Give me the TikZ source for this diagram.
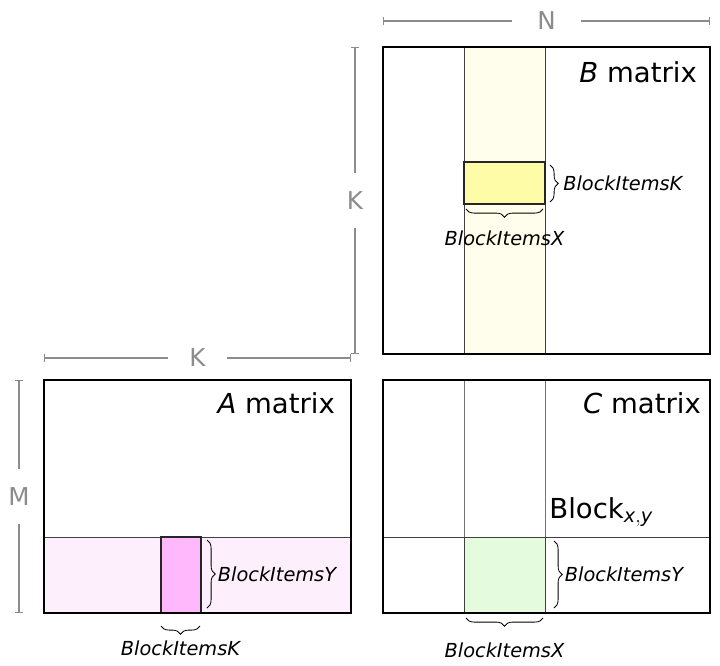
\documentclass[tikz,border=0pt]{standalone}
\usepackage{fontspec}
\setmainfont{DejaVu Sans}
\usepackage{tikz}
\usetikzlibrary{arrows, positioning, decorations.pathreplacing}
\definecolor{dimgrey}{HTML}{8C8C8C}
\definecolor{stripyellow}{HTML}{FFFDEB}
\definecolor{blockyellow}{HTML}{FFFCA8}
\definecolor{strippink}{HTML}{FDF0FC}
\definecolor{blockpink}{HTML}{FFB8FB}
\definecolor{blockgreen}{HTML}{E4FCDD}

\begin{document}
\begin{tikzpicture}[x=0.03cm, y=-0.03cm, every node/.style={font=\normalfont}]
    % Define styles
    \tikzstyle{matbox} = [draw=black, line width=1.3pt]
    \tikzstyle{gridline} = [draw=black!75, line width=0.6pt]
    \tikzstyle{blockbox} = [draw=black!85, line width=1pt]
    \tikzstyle{dimline} = [draw=dimgrey, line width=0.9pt, |-|]
    \tikzstyle{dimlabel} = [fill=white, text=dimgrey, font=\normalfont\fontsize{21}{25}\selectfont, inner sep=10pt]
    \tikzstyle{matlabel} = [font=\normalfont\fontsize{23.5}{28}\selectfont]
    \tikzstyle{itemlabel} = [font=\normalfont\itshape\fontsize{16.5}{20}\selectfont, inner sep=1pt]
    \tikzstyle{bracelr} = [decorate, decoration={brace, amplitude=7pt}, line width=0.7pt]

    \useasboundingbox (0,0) rectangle (720,666);

    % B matrix
    \fill[stripyellow] (464,47) rectangle (545,354);
    \draw[gridline] (464,47) -- (464,354);
    \draw[gridline] (545,47) -- (545,354);
    \draw[blockbox, fill=blockyellow] (464,162) rectangle (545,204);
    \draw[matbox] (383,47) rectangle (710,354);
    \node (blabel) [matlabel, anchor=east] at (701,72) {\textit{B} matrix};

    % A matrix
    \fill[strippink] (44,537) rectangle (351,613);
    \draw[gridline] (44,537) -- (351,537);
    \draw[blockbox, fill=blockpink] (161,537) rectangle (201,613);
    \draw[matbox] (44,380) rectangle (351,613);
    \node (alabel) [matlabel, anchor=east] at (339,403) {\textit{A} matrix};

    % C matrix
    \draw[gridline, draw=black!55] (464,380) -- (464,613);
    \draw[gridline, draw=black!55] (545,380) -- (545,613);
    \draw[gridline] (383,537) -- (710,537);
    \fill[blockgreen] (464.5,537.5) rectangle (544.5,612.5);
    \draw[gridline] (464,537) -- (464,613);
    \draw[gridline] (545,537) -- (545,613);
    \draw[matbox] (383,380) rectangle (710,613);
    \node (clabel) [matlabel, anchor=east] at (705,403) {\textit{C} matrix};
    \node (block) [matlabel, anchor=west, inner sep=1pt] at (548,512) {Block$_{\mathit{x,y}}$};

    % Dimension lines
    \coordinate (n0) at (383,21);
    \coordinate (n1) at (710,21);
    \draw[dimline] (n0) -- (n1) node[dimlabel, midway, inner xsep=22pt] (ndim) {N};
    \coordinate (kb0) at (355,47);
    \coordinate (kb1) at (355,354);
    \draw[dimline] (kb0) -- (kb1) node[dimlabel, pos=0.5, inner ysep=16pt] (kbdim) {K};
    \coordinate (ka0) at (44,358);
    \coordinate (ka1) at (351,358);
    \draw[dimline] (ka0) -- (ka1) node[dimlabel, midway, inner xsep=18pt, inner ysep=2pt] (kadim) {K};
    \coordinate (m0) at (19,380);
    \coordinate (m1) at (19,613);
    \draw[dimline] (m0) -- (m1) node[dimlabel, midway, inner ysep=16pt, inner xsep=2pt] (mdim) {M};

    % Braces in B
    \draw[bracelr] (550,165) -- (550,202) node[itemlabel, midway, anchor=west, xshift=10pt] (bk) {BlockItemsK};
    \draw[bracelr] (543,209) -- (466,209) node[itemlabel, midway, below=17pt] (bx) {BlockItemsX};

    % Braces in A
    \draw[bracelr] (207,540) -- (207,608) node[itemlabel, midway, anchor=west, xshift=8pt] (ay) {BlockItemsY};
    \draw[bracelr] (200,626) -- (161,626) node[itemlabel, midway, below=11pt] (ak) {BlockItemsK};

    % Braces in C
    \draw[bracelr] (554,541) -- (554,608) node[itemlabel, midway, anchor=west, xshift=8pt] (cy) {BlockItemsY};
    \draw[bracelr] (543,618) -- (466,618) node[itemlabel, midway, below=20pt] (cx) {BlockItemsX};
\end{tikzpicture}
\end{document}
